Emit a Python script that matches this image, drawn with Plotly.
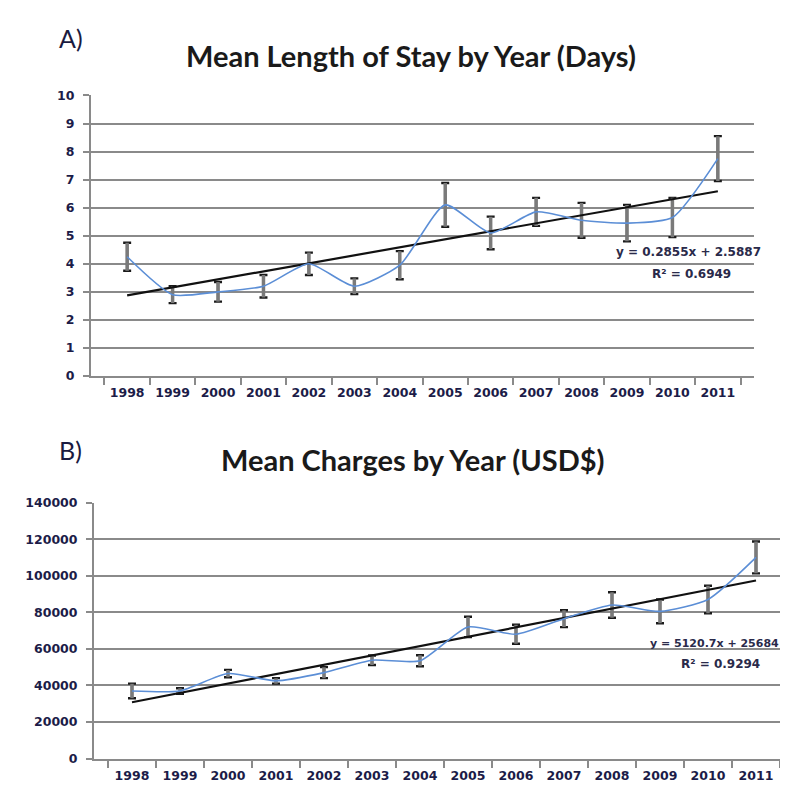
import plotly.graph_objects as go

years = ["1998", "1999", "2000", "2001", "2002", "2003", "2004",
         "2005", "2006", "2007", "2008", "2009", "2010", "2011"]

# Panel A: mean length of stay (days)
los_mean = [4.25, 2.9, 3.0, 3.2, 4.0, 3.2, 3.95, 6.1, 5.1, 5.85, 5.55, 5.45, 5.65, 7.75]
los_err = [0.5, 0.3, 0.35, 0.4, 0.4, 0.28, 0.5, 0.78, 0.58, 0.5, 0.62, 0.65, 0.7, 0.8]
los_slope, los_intercept = 0.2855, 2.5887
los_eq = "y = 0.2855x + 2.5887"
los_r2 = "R² = 0.6949"

# Panel B: mean charges (USD)
chg_mean = [37000, 37000, 46500, 42500, 47000, 53800, 53500, 72000, 68000, 76500,
            84000, 80500, 87000, 110000]
chg_err = [4000, 1500, 2000, 1500, 3000, 2600, 3000, 5600, 5200, 4600,
           7000, 6500, 7500, 8700]
chg_slope, chg_intercept = 5120.7, 25684
chg_eq = "y = 5120.7x + 25684"
chg_r2 = "R² = 0.9294"

BLUE = "#5b8ed6"
GRID = "#8a8a8a"
TICKFONT = dict(family="DejaVu Sans", size=12.5, color="#1c1c48", weight="bold")

fig = go.Figure()


def add_panel(fig, means, errs, slope, intercept, xa, ya):
    idx = list(range(1, len(years) + 1))
    trend = [slope * i + intercept for i in idx]
    # error bar caps (black)
    fig.add_trace(go.Scatter(
        x=years, y=means, mode="markers",
        marker=dict(size=1, color="rgba(0,0,0,0)"),
        error_y=dict(type="data", array=errs, visible=True, color="#1a1a1a",
                     thickness=2.4, width=4),
        xaxis=xa, yaxis=ya, hoverinfo="skip", showlegend=False))
    # error bar stems (grey)
    fig.add_trace(go.Scatter(
        x=years, y=means, mode="markers",
        marker=dict(size=1, color="rgba(0,0,0,0)"),
        error_y=dict(type="data", array=errs, visible=True, color="#7a7a7a",
                     thickness=3.5, width=0),
        xaxis=xa, yaxis=ya, hoverinfo="skip", showlegend=False))
    # linear trendline
    fig.add_trace(go.Scatter(
        x=[years[0], years[-1]], y=[trend[0], trend[-1]], mode="lines",
        line=dict(color="#111111", width=2.2),
        xaxis=xa, yaxis=ya, showlegend=False))
    # smoothed mean line
    fig.add_trace(go.Scatter(
        x=years, y=means, mode="lines",
        line=dict(color=BLUE, width=1.6, shape="spline", smoothing=0.6),
        xaxis=xa, yaxis=ya, showlegend=False))


add_panel(fig, los_mean, los_err, los_slope, los_intercept, "x", "y")
add_panel(fig, chg_mean, chg_err, chg_slope, chg_intercept, "x2", "y2")

W, H = 788, 789
xaxis_common = dict(type="category", tickson="boundaries", ticks="outside",
                    ticklen=7, tickwidth=2, tickcolor=GRID, showline=True,
                    linecolor=GRID, linewidth=2, showgrid=False,
                    tickfont=TICKFONT, ticklabelstandoff=4, fixedrange=True)
yaxis_common = dict(ticks="outside", ticklen=6, tickwidth=2, tickcolor=GRID,
                    showline=True, linecolor=GRID, linewidth=2, showgrid=True,
                    gridcolor=GRID, gridwidth=2, zeroline=False,
                    tickfont=TICKFONT, ticklabelstandoff=6, fixedrange=True)

fig.update_layout(
    width=W, height=H,
    margin=dict(l=0, r=0, t=0, b=0),
    paper_bgcolor="white", plot_bgcolor="white",
    xaxis=dict(domain=[83 / W, 746 / W], anchor="y", **xaxis_common),
    yaxis=dict(domain=[1 - 367 / H, 1 - 81 / H], anchor="x", range=[0, 10],
               dtick=1, **yaxis_common),
    xaxis2=dict(domain=[86 / W, 786 / W], anchor="y2", **xaxis_common),
    yaxis2=dict(domain=[1 - 757 / H, 1 - 496 / H], anchor="x2",
                range=[0, 140000], dtick=20000, tickformat="d", **yaxis_common),
)

title_font = dict(family="Lato", size=29, color="#1a1a1a")
label_font = dict(family="Lato", size=25, color="#1a1a40")
eq_font = dict(family="DejaVu Sans", size=12, color="#2a2a4a")
eq_font_small = dict(family="DejaVu Sans", size=11, color="#2a2a4a")

annos = [
    dict(text="<b>Mean Length of Stay by Year (Days)</b>", x=403 / W, y=1 - 40 / H,
         font=title_font, xanchor="center", yanchor="middle"),
    dict(text="A)", x=63 / W, y=1 - 22 / H, font=label_font, xanchor="center",
         yanchor="middle"),
    dict(text="<b>Mean Charges by Year (USD$)</b>", x=405 / W, y=1 - 452 / H,
         font=title_font, xanchor="center", yanchor="middle"),
    dict(text="B)", x=62 / W, y=1 - 442 / H, font=label_font, xanchor="center",
         yanchor="middle"),
    dict(text="<b>" + los_eq + "</b>", x=680 / W, y=1 - 241 / H, font=eq_font,
         xanchor="center", yanchor="middle"),
    dict(text="<b>" + los_r2 + "</b>", x=683 / W, y=1 - 263 / H, font=eq_font,
         xanchor="center", yanchor="middle"),
    dict(text="<b>" + chg_eq + "</b>", x=706 / W, y=1 - 640 / H, font=eq_font_small,
         xanchor="center", yanchor="middle"),
    dict(text="<b>" + chg_r2 + "</b>", x=712 / W, y=1 - 661 / H, font=eq_font,
         xanchor="center", yanchor="middle"),
]
for a in annos:
    fig.add_annotation(xref="paper", yref="paper", showarrow=False, **a)

fig.write_html("out.html")
